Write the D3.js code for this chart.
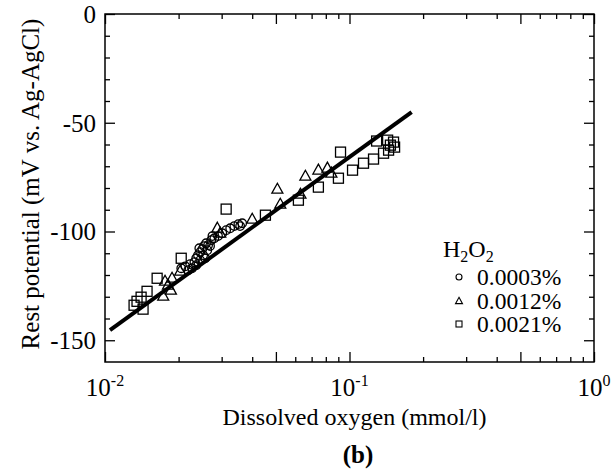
<!DOCTYPE html>
<html>
<head>
<meta charset="utf-8">
<script src="https://cdn.jsdelivr.net/npm/d3@7"></script>
<style>
  body { margin: 0; background: #fff; }
  svg { display: block; font-family: "Liberation Serif", "Times New Roman", serif; }
</style>
</head>
<body>
<svg id="chart" width="616" height="471"></svg>
<script>
// --- data: [dissolved O2 (mmol/l), rest potential (mV)] ---
const series0003 = [
  [0.0205, -116.9], [0.0213, -116.0], [0.0219, -117.8], [0.0223, -115.0], [0.0227, -116.9],
  [0.0232, -114.1], [0.0236, -112.3], [0.0240, -110.9], [0.0245, -109.5], [0.0250, -108.1],
  [0.0254, -106.7], [0.0259, -105.4], [0.0264, -106.3], [0.0272, -104.0], [0.0280, -103.1],
  [0.0290, -102.1], [0.0302, -100.8], [0.0313, -99.4], [0.0325, -98.5], [0.0338, -97.5],
  [0.0351, -96.6], [0.0364, -96.2], [0.0236, -115.5], [0.0245, -113.2], [0.0357, -97.5],
  [0.0252, -110.9], [0.0262, -108.6], [0.0243, -107.7], [0.0269, -106.7], [0.0275, -102.1],
  [0.0257, -112.3]
];
const series0012 = [
  [0.0173, -129.3], [0.0176, -122.4], [0.0181, -124.2], [0.0186, -126.5], [0.0188, -121.0],
  [0.0203, -117.8], [0.0288, -98.0], [0.0296, -100.3], [0.0400, -93.9], [0.0507, -80.1],
  [0.0521, -87.0], [0.0630, -82.4], [0.0660, -74.1], [0.0746, -71.3], [0.0812, -70.4],
  [0.0843, -72.7]
];
const series0021 = [
  [0.01315, -133.9], [0.01352, -132.1], [0.01405, -130.2], [0.01431, -135.7], [0.01486, -127.5],
  [0.01634, -121.5], [0.0205, -112.3], [0.0313, -89.7], [0.0453, -92.5], [0.0618, -85.6],
  [0.0746, -79.6], [0.0901, -75.5], [0.0919, -63.5], [0.1029, -71.8], [0.1141, -68.6],
  [0.1254, -66.7], [0.1378, -64.0], [0.1445, -62.6], [0.1291, -58.4], [0.1432, -58.0],
  [0.1514, -58.9], [0.1529, -61.2], [0.1470, -60.3]
];
// fitted line end points
const fitLine = [[0.01048, -145.4], [0.1795, -45.1]];

const xMajorTicks = [0.01, 0.1, 1];
const xTickLabels = [["10", "-2"], ["10", "-1"], ["10", "0"]];
const xMinorTicks = [0.02, 0.03, 0.04, 0.06, 0.07, 0.08, 0.09, 0.2, 0.3, 0.4, 0.6, 0.7, 0.8, 0.9];
const xMidTicks = [0.05, 0.5];
const yMajorTicks = [0, -50, -100, -150];
const yMinorTicks = [-10, -20, -30, -40, -60, -70, -80, -90, -110, -120, -130, -140];

const legendItems = [
  { label: "0.0003%", shape: "circle" },
  { label: "0.0012%", shape: "triangle" },
  { label: "0.0021%", shape: "square" }
];

const svg = d3.select("#chart");
const plotLeft = 105, plotRight = 594, plotTop = 14, plotBottom = 362;

const x = d3.scaleLog().domain([0.01, 1]).range([plotLeft, plotRight]);
const y = d3.scaleLinear().domain([-160, 0]).range([plotBottom, plotTop]);

// --- axes (ticks inward on all four sides) ---
function tickAxis(axisFn, scale, values, size, transform) {
  svg.append("g")
    .attr("transform", transform)
    .call(axisFn(scale).tickValues(values).tickSize(size).tickFormat(""))
    .call(g => g.select(".domain").remove())
    .call(g => g.selectAll("line").attr("stroke", "#000").attr("stroke-width", 1.3));
}
tickAxis(d3.axisBottom, x, xMajorTicks.concat(xMidTicks), -10, `translate(0,${plotBottom})`);
tickAxis(d3.axisBottom, x, xMinorTicks, -5, `translate(0,${plotBottom})`);
tickAxis(d3.axisTop, x, xMajorTicks.concat(xMidTicks), -10, `translate(0,${plotTop})`);
tickAxis(d3.axisTop, x, xMinorTicks, -5, `translate(0,${plotTop})`);
tickAxis(d3.axisLeft, y, yMajorTicks, -10, `translate(${plotLeft},0)`);
tickAxis(d3.axisLeft, y, yMinorTicks, -5, `translate(${plotLeft},0)`);
tickAxis(d3.axisRight, y, yMajorTicks, -10, `translate(${plotRight},0)`);
tickAxis(d3.axisRight, y, yMinorTicks, -5, `translate(${plotRight},0)`);

svg.append("rect")
  .attr("x", plotLeft).attr("y", plotTop)
  .attr("width", plotRight - plotLeft).attr("height", plotBottom - plotTop)
  .attr("fill", "none").attr("stroke", "#000").attr("stroke-width", 1.5);

// y tick labels
svg.append("g").selectAll("text")
  .data(yMajorTicks)
  .enter().append("text")
    .attr("x", plotLeft - 9)
    .attr("y", d => y(d))
    .attr("dy", "0.35em")
    .attr("text-anchor", "end")
    .style("font-size", "25px")
    .text(d => d);

// x tick labels with superscripts
const xl = svg.append("g").selectAll("text")
  .data(xMajorTicks)
  .enter().append("text")
    .attr("x", d => x(d))
    .attr("y", plotBottom + 34)
    .attr("text-anchor", "middle")
    .style("font-size", "25px");
xl.append("tspan").text((d, i) => xTickLabels[i][0]);
xl.append("tspan").attr("dy", -10).style("font-size", "16px").text((d, i) => xTickLabels[i][1]);

// axis titles
svg.append("text")
  .attr("x", (plotLeft + plotRight) / 2 + 5)
  .attr("y", 425)
  .attr("text-anchor", "middle")
  .style("font-size", "24px")
  .text("Dissolved oxygen (mmol/l)");

svg.append("text")
  .attr("transform", `translate(39,${(plotTop + plotBottom) / 2 - 4}) rotate(-90)`)
  .attr("text-anchor", "middle")
  .style("font-size", "25px")
  .text("Rest potential (mV vs. Ag-AgCl)");

svg.append("text")
  .attr("x", 358)
  .attr("y", 463)
  .attr("text-anchor", "middle")
  .style("font-size", "25px")
  .style("font-weight", "bold")
  .text("(b)");

// --- markers ---
function drawMarker(g, shape, cx, cy, s) {
  if (shape === "circle") {
    g.append("circle").attr("cx", cx).attr("cy", cy).attr("r", s / 2);
  } else if (shape === "square") {
    g.append("rect").attr("x", cx - s / 2).attr("y", cy - s / 2).attr("width", s).attr("height", s);
  } else {
    const h = s * 0.9;
    g.append("path").attr("d", `M${cx},${cy - h / 2}L${cx + s / 2},${cy + h / 2}L${cx - s / 2},${cy + h / 2}Z`);
  }
}

const marks = svg.append("g")
  .attr("fill", "none")
  .attr("stroke", "#000")
  .attr("stroke-width", 1.3);

series0021.forEach(d => drawMarker(marks, "square", x(d[0]), y(d[1]), 10));
series0012.forEach(d => drawMarker(marks, "triangle", x(d[0]), y(d[1]), 11));
series0003.forEach(d => drawMarker(marks, "circle", x(d[0]), y(d[1]), 8.5));

// fitted line
svg.append("path")
  .datum(fitLine)
  .attr("fill", "none")
  .attr("stroke", "#000")
  .attr("stroke-width", 4)
  .attr("d", d3.line().x(d => x(d[0])).y(d => y(d[1])));

// --- legend ---
const lg = svg.append("g");
const h2o2 = lg.append("text").attr("x", 443).attr("y", 257).style("font-size", "24px");
h2o2.append("tspan").text("H");
h2o2.append("tspan").attr("dy", 5).style("font-size", "16px").text("2");
h2o2.append("tspan").attr("dy", -5).text("O");
h2o2.append("tspan").attr("dy", 5).style("font-size", "16px").text("2");

const lm = lg.append("g").attr("fill", "none").attr("stroke", "#000").attr("stroke-width", 1.1);
legendItems.forEach((item, i) => {
  const cy = 277 + i * 23.5;
  drawMarker(lm, item.shape, 459, cy, item.shape === "triangle" ? 7 : 6);
  lg.append("text")
    .attr("x", 477).attr("y", cy)
    .attr("dy", "0.35em")
    .style("font-size", "23.5px")
    .text(item.label);
});
</script>
</body>
</html>
